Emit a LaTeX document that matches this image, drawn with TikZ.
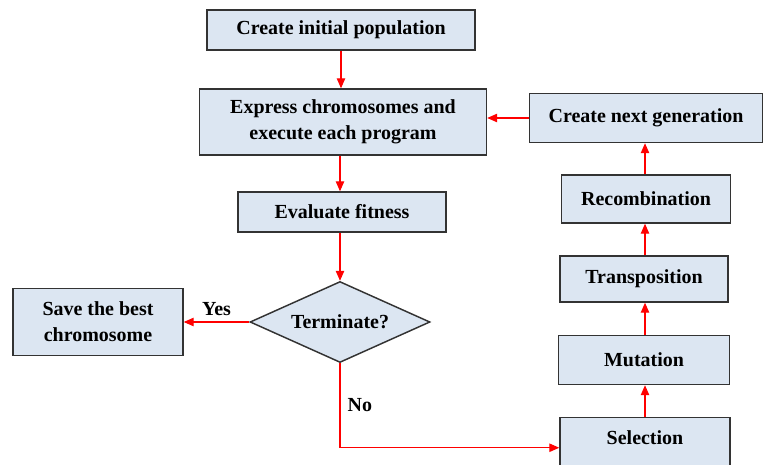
\documentclass[tikz,border=0pt]{standalone}
\usepackage{fontspec}
\setmainfont{Liberation Serif}[BoldFont={Liberation Serif Bold}]
\usetikzlibrary{positioning,arrows.meta,shapes.geometric}

\begin{document}
\begin{tikzpicture}[x=0.0264cm,y=-0.0264cm,
  box/.style={draw=black!80,line width=1.1pt,fill=boxblue,font=\bfseries\fontsize{15}{19.5}\selectfont,align=center,inner sep=0pt},
  flow/.style={red,line width=0.8pt,-{Triangle[length=2.6mm,width=2.2mm]}},
  lbl/.style={text=black,font=\bfseries\fontsize{15}{19.5}\selectfont}]
\definecolor{boxblue}{HTML}{DCE6F2}
\useasboundingbox (0,0) rectangle (764,464);
\clip (0,0) rectangle (764,464);
\node[box,minimum width=268*0.0264cm,minimum height=40*0.0264cm] (init) at (341,30) {Create initial population};
\node[box,minimum width=287*0.0264cm,minimum height=66*0.0264cm] (expr) at (343,122) {Express chromosomes and\\execute each program};
\node[box,minimum width=208*0.0264cm,minimum height=40*0.0264cm] (eval) at (342,212) {Evaluate fitness};
\node[diamond,draw=black!80,line width=1.1pt,fill=boxblue,aspect=2.2,minimum width=180*0.0264cm,minimum height=81*0.0264cm,inner sep=0pt,font=\bfseries\fontsize{15}{19.5}\selectfont] (term) at (340,322) {Terminate?};
\node[box,minimum width=170*0.0264cm,minimum height=67*0.0264cm] (save) at (98,322) {Save the best\\chromosome};
\node[box,minimum width=233*0.0264cm,minimum height=49*0.0264cm] (next) at (646,118) {Create next generation};
\node[box,minimum width=169*0.0264cm,minimum height=48*0.0264cm] (recomb) at (646,199) {Recombination};
\node[box,minimum width=168*0.0264cm,minimum height=46*0.0264cm] (transp) at (644,279) {Transposition};
\node[box,minimum width=171*0.0264cm,minimum height=49*0.0264cm] (mut) at (644,360) {Mutation};
\node[box,minimum width=170*0.0264cm,minimum height=60*0.0264cm,anchor=north] (sel) at (645,417) {\raisebox{2.2ex}{Selection}};
% main column
\draw[flow] (init.south) -- (init.south |- expr.north);
\draw[flow] (term.north |- expr.south) -- (term.north |- eval.north);
\draw[flow] (term.north |- eval.south) -- (term.north);
\draw[flow] (term.west) -- (save.east) node[lbl,pos=0.5,above=1pt] {Yes};
\draw[flow] (term.south) |- (sel.west) node[lbl,pos=0.25,right=2pt] {No};
% right column
\draw[flow] (sel.north) -- (sel.north |- mut.south);
\draw[flow] (sel.north |- mut.north) -- (sel.north |- transp.south);
\draw[flow] (sel.north |- transp.north) -- (sel.north |- recomb.south);
\draw[flow] (sel.north |- recomb.north) -- (sel.north |- next.south);
\draw[flow] (next.west) -- (expr.east |- next.west);
\end{tikzpicture}
\end{document}
